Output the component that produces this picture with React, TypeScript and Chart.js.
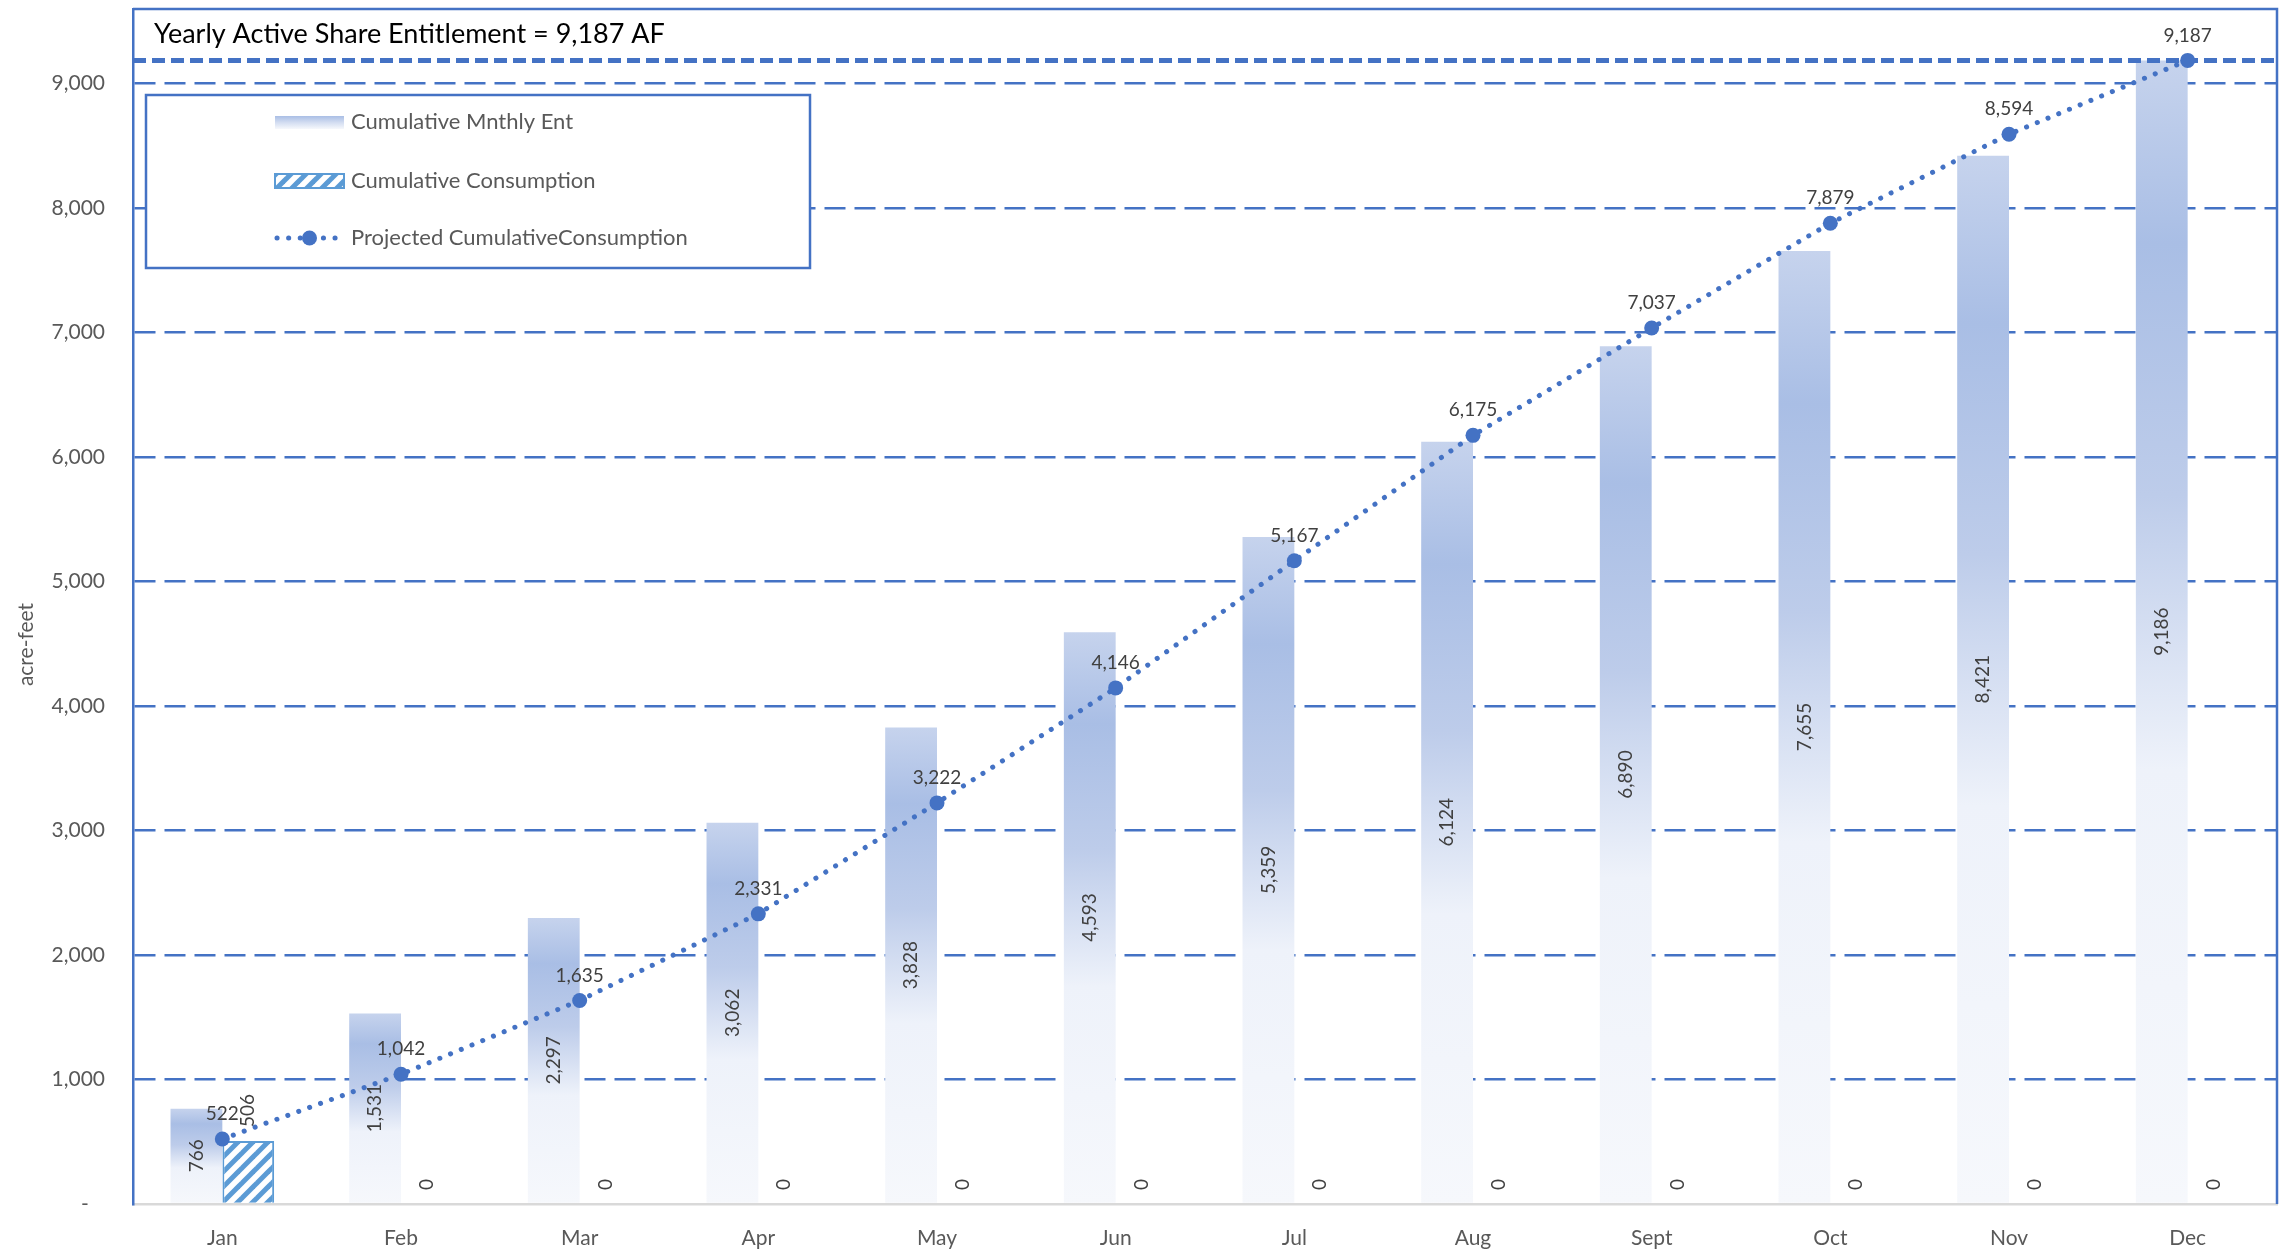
import { useEffect, useRef } from 'react';
import { Chart, registerables } from 'chart.js';

Chart.register(...registerables);

// ---- data ----
const MONTHS = ['Jan', 'Feb', 'Mar', 'Apr', 'May', 'Jun', 'Jul', 'Aug', 'Sept', 'Oct', 'Nov', 'Dec'];
const CUM_MONTHLY_ENT = [766, 1531, 2297, 3062, 3828, 4593, 5359, 6124, 6890, 7655, 8421, 9186];
const CUM_CONSUMPTION = [506, 0, 0, 0, 0, 0, 0, 0, 0, 0, 0, 0];
const PROJECTED_CUM = [522, 1042, 1635, 2331, 3222, 4146, 5167, 6175, 7037, 7879, 8594, 9187];
const YEARLY_ENTITLEMENT = 9187;
const Y_TICKS = [0, 1000, 2000, 3000, 4000, 5000, 6000, 7000, 8000, 9000];
const Y_MAX = 9600;

const LABEL_ENT = 'Cumulative Mnthly Ent';
const LABEL_CONS = 'Cumulative Consumption';
const LABEL_PROJ = 'Projected CumulativeConsumption';
const TITLE_TEXT = 'Yearly Active Share Entitlement = 9,187 AF';
const Y_TITLE = 'acre-feet';

// ---- styling ----
const FONT = "Lato, 'Open Sans', sans-serif";
const BLUE = '#4472C4';
const HATCH = '#5B9BD5';
const AXIS_TEXT = '#595959';
const LABEL_TEXT = '#404040';

const fmt = (v: number) => v.toLocaleString('en-US');

function addEntStops(g: CanvasGradient) {
  g.addColorStop(0, '#C6D3ED');
  g.addColorStop(0.16, '#A9BEE5');
  g.addColorStop(0.38, '#BDCCEA');
  g.addColorStop(0.62, '#EEF2FA');
  g.addColorStop(1, '#F6F8FC');
}

function makeHatch(): CanvasPattern | string {
  const s = 15;
  const c = document.createElement('canvas');
  c.width = s;
  c.height = s;
  const g = c.getContext('2d');
  if (!g) return HATCH;
  g.fillStyle = '#ffffff';
  g.fillRect(0, 0, s, s);
  g.strokeStyle = HATCH;
  g.lineWidth = 5;
  for (const o of [-s, 0, s]) {
    g.beginPath();
    g.moveTo(o - 2, s + 2);
    g.lineTo(o + s + 2, -2);
    g.stroke();
  }
  return g.createPattern(c, 'repeat') || HATCH;
}

export default function App() {
  const ref = useRef<HTMLCanvasElement>(null);

  useEffect(() => {
    const canvas = ref.current;
    if (!canvas) return;
    const hatch = makeHatch();

    const entBarColor = (ctx: any) => {
      const chart = ctx.chart;
      const ys = chart.scales?.y;
      if (!ys || ctx.type !== 'data') return '#B4C7E7';
      const top = ys.getPixelForValue(ctx.raw as number);
      const base = ys.getPixelForValue(0);
      if (!isFinite(top) || !isFinite(base) || top === base) return '#B4C7E7';
      const g = chart.ctx.createLinearGradient(0, top, 0, base);
      addEntStops(g);
      return g;
    };

    const decor = {
      id: 'decor',
      beforeDatasetDraw(chart: any, args: any) {
        // entitlement line sits over the bars but under the projection line
        if (args.meta.type !== 'line') return;
        const { ctx, chartArea } = chart;
        const y = chart.scales.y.getPixelForValue(YEARLY_ENTITLEMENT);
        ctx.save();
        ctx.strokeStyle = BLUE;
        ctx.lineWidth = 5;
        ctx.setLineDash([13, 6]);
        ctx.beginPath();
        ctx.moveTo(chartArea.left, y);
        ctx.lineTo(chartArea.right, y);
        ctx.stroke();
        ctx.restore();
      },
      afterDatasetsDraw(chart: any) {
        const { ctx, chartArea } = chart;
        ctx.save();
        // plot frame: top and right edges
        ctx.strokeStyle = BLUE;
        ctx.lineWidth = 2.5;
        ctx.beginPath();
        ctx.moveTo(chartArea.left, chartArea.top);
        ctx.lineTo(chartArea.right, chartArea.top);
        ctx.lineTo(chartArea.right, chartArea.bottom);
        ctx.stroke();

        ctx.font = `19px ${FONT}`;
        ctx.fillStyle = LABEL_TEXT;

        const projMeta = chart.getDatasetMeta(0);
        const entMeta = chart.getDatasetMeta(1);
        const consMeta = chart.getDatasetMeta(2);

        entMeta.data.forEach((el: any, i: number) => {
          const p = el.getProps(['x', 'y', 'base'], true);
          ctx.save();
          ctx.translate(p.x, (p.y + p.base) / 2);
          ctx.rotate(-Math.PI / 2);
          ctx.textAlign = 'center';
          ctx.textBaseline = 'middle';
          ctx.fillText(fmt(CUM_MONTHLY_ENT[i]), 0, 0);
          ctx.restore();
        });

        consMeta.data.forEach((el: any, i: number) => {
          const p = el.getProps(['x', 'y'], true);
          ctx.save();
          ctx.translate(p.x, p.y - 14);
          ctx.rotate(-Math.PI / 2);
          ctx.textAlign = 'left';
          ctx.textBaseline = 'middle';
          ctx.fillText(fmt(CUM_CONSUMPTION[i]), 0, 0);
          ctx.restore();
        });

        projMeta.data.forEach((el: any, i: number) => {
          const p = el.getProps(['x', 'y'], true);
          ctx.textAlign = 'center';
          ctx.textBaseline = 'middle';
          ctx.fillText(fmt(PROJECTED_CUM[i]), p.x, p.y - 25);
        });
        ctx.restore();
      },
      afterDraw(chart: any) {
        const { ctx, chartArea } = chart;
        ctx.save();

        // heading text box
        ctx.fillStyle = '#000000';
        ctx.font = `27px ${FONT}`;
        ctx.textAlign = 'left';
        ctx.textBaseline = 'middle';
        ctx.fillText(TITLE_TEXT, chartArea.left + 21, chartArea.top + 25);

        // y axis title
        ctx.save();
        ctx.translate(26, (chartArea.top + chartArea.bottom) / 2 + 38);
        ctx.rotate(-Math.PI / 2);
        ctx.fillStyle = AXIS_TEXT;
        ctx.font = `21px ${FONT}`;
        ctx.textAlign = 'center';
        ctx.textBaseline = 'middle';
        ctx.fillText(Y_TITLE, 0, 0);
        ctx.restore();

        // legend box
        const bx = chartArea.left + 13;
        const by = chartArea.top + 86;
        const bw = 664;
        const bh = 173;
        ctx.fillStyle = '#ffffff';
        ctx.fillRect(bx, by, bw, bh);
        ctx.strokeStyle = BLUE;
        ctx.lineWidth = 2.5;
        ctx.strokeRect(bx, by, bw, bh);

        const sx = bx + 129;
        const sw = 69;
        const tx = bx + 205;
        const rows = [by + 27, by + 86, by + 143];

        // gradient bar swatch
        const g = ctx.createLinearGradient(0, rows[0] - 6, 0, rows[0] + 7);
        g.addColorStop(0, '#A9BEE5');
        g.addColorStop(0.5, '#D3DDF1');
        g.addColorStop(1, '#F6F8FC');
        ctx.fillStyle = g;
        ctx.fillRect(sx, rows[0] - 6, sw, 13);

        // hatched swatch
        ctx.fillStyle = hatch as any;
        ctx.fillRect(sx, rows[1] - 7, sw, 14);
        ctx.strokeStyle = HATCH;
        ctx.lineWidth = 2;
        ctx.strokeRect(sx, rows[1] - 7, sw, 14);

        // dotted line with marker swatch
        ctx.strokeStyle = BLUE;
        ctx.lineWidth = 5;
        ctx.lineCap = 'round';
        ctx.setLineDash([0.1, 11.5]);
        ctx.beginPath();
        ctx.moveTo(sx + 2, rows[2]);
        ctx.lineTo(sx + sw - 2, rows[2]);
        ctx.stroke();
        ctx.setLineDash([]);
        ctx.fillStyle = BLUE;
        ctx.beginPath();
        ctx.arc(sx + sw / 2, rows[2], 7.5, 0, Math.PI * 2);
        ctx.fill();

        ctx.fillStyle = AXIS_TEXT;
        ctx.font = `22px ${FONT}`;
        ctx.textAlign = 'left';
        ctx.textBaseline = 'middle';
        ctx.fillText(LABEL_ENT, tx, rows[0]);
        ctx.fillText(LABEL_CONS, tx, rows[1]);
        ctx.fillText(LABEL_PROJ, tx, rows[2]);
        ctx.restore();
      },
    };

    const chart = new Chart(canvas, {
      data: {
        labels: MONTHS,
        datasets: [
          {
            type: 'line',
            label: LABEL_PROJ,
            data: PROJECTED_CUM,
            order: 0,
            borderColor: BLUE,
            borderWidth: 5,
            borderDash: [0.1, 11.5],
            borderCapStyle: 'round',
            tension: 0,
            fill: false,
            pointRadius: 7.5,
            pointHoverRadius: 7.5,
            pointBackgroundColor: BLUE,
            pointBorderColor: BLUE,
            pointBorderWidth: 0,
          } as any,
          {
            type: 'bar',
            label: LABEL_ENT,
            data: CUM_MONTHLY_ENT,
            order: 1,
            backgroundColor: entBarColor,
            borderWidth: 0,
            barPercentage: 1,
            categoryPercentage: 0.58,
          } as any,
          {
            type: 'bar',
            label: LABEL_CONS,
            data: CUM_CONSUMPTION,
            order: 1,
            backgroundColor: hatch,
            borderColor: HATCH,
            borderWidth: { top: 2, left: 2, right: 2, bottom: 0 },
            borderSkipped: 'bottom',
            barPercentage: 1,
            categoryPercentage: 0.58,
          } as any,
        ],
      },
      options: {
        responsive: false,
        animation: false,
        devicePixelRatio: 1,
        events: [],
        layout: { padding: { left: 0, right: 16, top: 9, bottom: 0 } },
        plugins: {
          legend: { display: false },
          tooltip: { enabled: false },
          title: { display: false },
        },
        scales: {
          x: {
            type: 'category',
            offset: true,
            grid: { display: false, drawTicks: false },
            border: { display: true, color: '#D9D9D9', width: 2.5 },
            ticks: {
              color: AXIS_TEXT,
              font: { family: FONT, size: 21 },
              padding: 22,
              maxRotation: 0,
            },
            afterFit: (s: any) => {
              s.height = 50;
            },
          },
          y: {
            type: 'linear',
            min: 0,
            max: Y_MAX,
            ticks: {
              autoSkip: false,
              color: AXIS_TEXT,
              font: { family: FONT, size: 21 },
              padding: 28,
              callback: (v: any) => (Number(v) === 0 ? '-   ' : fmt(Number(v))),
            },
            afterBuildTicks: (s: any) => {
              s.ticks = Y_TICKS.map((value) => ({ value }));
            },
            grid: {
              drawTicks: false,
              lineWidth: 2.5,
              color: (c: any) => (c.tick && c.tick.value > 0 ? BLUE : 'rgba(0,0,0,0)'),
            },
            border: { display: true, color: BLUE, width: 2.5, dash: [21, 9] },
            afterFit: (s: any) => {
              s.width = 133;
              s.paddingTop = 0;
              s.paddingBottom = 0;
            },
          },
        },
      },
      plugins: [decor],
    } as any);

    return () => chart.destroy();
  }, []);

  return (
    <div style={{ position: 'fixed', left: 0, top: 0, width: 2293, height: 1254, background: '#ffffff' }}>
      <canvas ref={ref} width={2293} height={1254} style={{ display: 'block', width: 2293, height: 1254 }} />
    </div>
  );
}
